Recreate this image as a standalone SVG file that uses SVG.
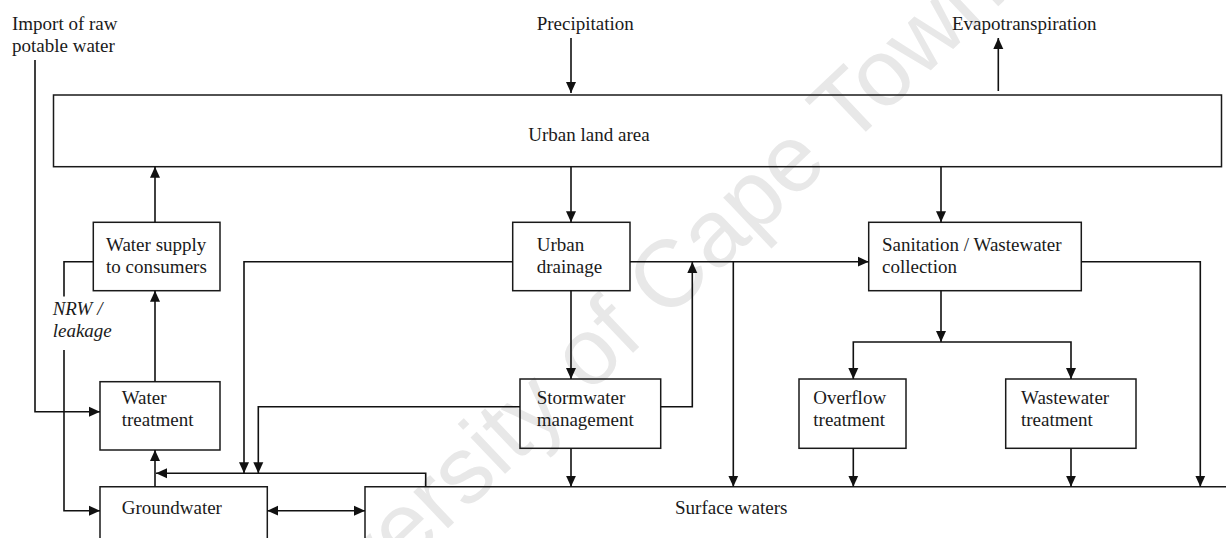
<svg xmlns="http://www.w3.org/2000/svg" width="1226" height="538" viewBox="0 0 1226 538">
  <style>
    .box { fill: none; stroke: #1a1a1a; stroke-width: 1.5; }
    .flow { fill: none; stroke: #111; stroke-width: 1.6; }
    .lbl { font-family: "Liberation Serif", "Times New Roman", serif; font-size: 19px; fill: #1a1a1a; }
    .it { font-style: italic; }
    .mark { font-family: "Liberation Sans", Arial, sans-serif; font-size: 95px; fill: #e8e8e8; }
  </style>
  <defs>
    <marker id="arr" markerUnits="userSpaceOnUse" markerWidth="12" markerHeight="11" refX="11" refY="5" orient="auto-start-reverse" viewBox="0 0 12 10">
      <path d="M0,0 L11,5 L0,10 z" fill="#111"/>
    </marker>
  </defs>
  <rect width="1226" height="538" fill="#fff"/>

  <!-- background watermark -->
  <text class="mark" transform="translate(267,700) rotate(-43.5)">University of Cape Town</text>

  <!-- external inputs / outputs -->
  <g id="import">
    <text class="lbl" x="12" y="30">Import of raw</text>
    <text class="lbl" x="12" y="52">potable water</text>
  </g>
  <g id="precipitation">
    <text class="lbl" x="536.7" y="30">Precipitation</text>
  </g>
  <g id="evapotranspiration">
    <text class="lbl" x="952" y="30">Evapotranspiration</text>
  </g>

  <!-- nodes -->
  <g id="urban-land">
    <rect class="box" x="53.5" y="95" width="1168" height="71.7"/>
    <text class="lbl" x="528.3" y="141">Urban land area</text>
  </g>
  <g id="water-supply">
    <rect class="box" x="93.3" y="222.3" width="126.7" height="68.4"/>
    <text class="lbl" x="106" y="250.5">Water supply</text>
    <text class="lbl" x="106" y="272.5">to consumers</text>
  </g>
  <g id="water-treatment">
    <rect class="box" x="100" y="381.7" width="120" height="68.3"/>
    <text class="lbl" x="121.7" y="404">Water</text>
    <text class="lbl" x="121.7" y="426">treatment</text>
  </g>
  <g id="groundwater">
    <path class="box" d="M100,545 V486.7 H267.3 V545"/>
    <text class="lbl" x="121.7" y="514">Groundwater</text>
  </g>
  <g id="urban-drainage">
    <rect class="box" x="512.7" y="222.3" width="117.3" height="68.4"/>
    <text class="lbl" x="536.7" y="250.5">Urban</text>
    <text class="lbl" x="536.7" y="272.5">drainage</text>
  </g>
  <g id="stormwater">
    <rect class="box" x="520" y="379" width="140.7" height="69.3"/>
    <text class="lbl" x="536.7" y="404">Stormwater</text>
    <text class="lbl" x="536.7" y="426">management</text>
  </g>
  <g id="sanitation">
    <rect class="box" x="868.7" y="222.3" width="212.6" height="68.4"/>
    <text class="lbl" x="882" y="250.5">Sanitation / Wastewater</text>
    <text class="lbl" x="882" y="272.5">collection</text>
  </g>
  <g id="overflow-treatment">
    <rect class="box" x="799" y="379" width="107" height="69.3"/>
    <text class="lbl" x="813.3" y="404">Overflow</text>
    <text class="lbl" x="813.3" y="426">treatment</text>
  </g>
  <g id="wastewater-treatment">
    <rect class="box" x="1005.7" y="379" width="130.3" height="69.3"/>
    <text class="lbl" x="1021" y="404">Wastewater</text>
    <text class="lbl" x="1021" y="426">treatment</text>
  </g>
  <g id="surface-waters">
    <path class="box" d="M365,545 V486.7 H1230"/>
    <text class="lbl" x="675" y="514">Surface waters</text>
  </g>
  <g id="nrw-label">
    <text class="lbl it" x="52.7" y="315">NRW /</text>
    <text class="lbl it" x="52.7" y="337">leakage</text>
  </g>

  <!-- connectors -->
  <g id="connectors">
    <path class="flow" d="M571,38 V93" marker-end="url(#arr)"/>
    <path class="flow" d="M998.3,91 V38" marker-end="url(#arr)"/>
    <path class="flow" d="M35,60 V411.7 H100" marker-end="url(#arr)"/>
    <path class="flow" d="M155,222.3 V166.7" marker-end="url(#arr)"/>
    <path class="flow" d="M155,381.7 V290.7" marker-end="url(#arr)"/>
    <path class="flow" d="M155,486.7 V450" marker-end="url(#arr)"/>
    <path class="flow" d="M93.3,261.7 H64 V296.5"/>
    <path class="flow" d="M64,350 V510.7 H100" marker-end="url(#arr)"/>
    <path class="flow" d="M267.3,510.7 H365" marker-start="url(#arr)" marker-end="url(#arr)"/>
    <path class="flow" d="M425.7,486.7 V473.3 H156" marker-end="url(#arr)"/>
    <path class="flow" d="M512.7,261.7 H244 V473.3" marker-end="url(#arr)"/>
    <path class="flow" d="M520,406.7 H258.3 V473.3" marker-end="url(#arr)"/>
    <path class="flow" d="M571,166.7 V222.3" marker-end="url(#arr)"/>
    <path class="flow" d="M571,290.7 V379" marker-end="url(#arr)"/>
    <path class="flow" d="M571,448.3 V486.7" marker-end="url(#arr)"/>
    <path class="flow" d="M660.7,406.7 H692.3 V262" marker-end="url(#arr)"/>
    <path class="flow" d="M630,261.7 H868.7" marker-end="url(#arr)"/>
    <path class="flow" d="M733.3,261.7 V486.7" marker-end="url(#arr)"/>
    <path class="flow" d="M941,166.7 V222.3" marker-end="url(#arr)"/>
    <path class="flow" d="M941,290.7 V342" marker-end="url(#arr)"/>
    <path class="flow" d="M853.3,379 V342 H1071 V379" marker-start="url(#arr)" marker-end="url(#arr)"/>
    <path class="flow" d="M853.3,448.3 V486.7" marker-end="url(#arr)"/>
    <path class="flow" d="M1071,448.3 V486.7" marker-end="url(#arr)"/>
    <path class="flow" d="M1081.3,261.7 H1200.3 V486.7" marker-end="url(#arr)"/>
  </g>
</svg>
